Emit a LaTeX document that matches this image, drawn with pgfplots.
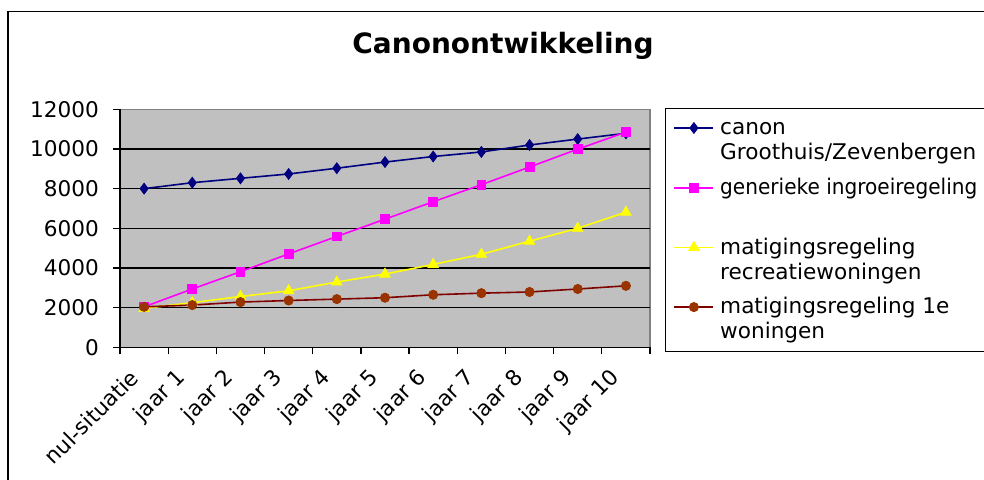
\documentclass[border=0pt]{standalone}
\usepackage{fontspec}
\setmainfont{DejaVu Sans}
\usepackage{graphicx}
\usepackage{pgfplots}
\pgfplotsset{compat=1.18}
\definecolor{cnavy}{RGB}{0,0,128}
\definecolor{cpink}{RGB}{255,0,255}
\definecolor{cyel}{RGB}{255,255,0}
\definecolor{cbrl}{RGB}{128,0,0}
\definecolor{cbrm}{RGB}{153,51,0}
\definecolor{cbg}{RGB}{192,192,192}
\newcommand{\lf}{\fontsize{10.8}{12.5}\selectfont}
\newcommand{\ent}[2]{\parbox[t]{150pt}{\lf\strut #1\\\strut #2}}
\newcommand{\entB}[2]{\parbox[t]{150pt}{\lf\strut #1\\#2}}
\begin{document}
\begin{tikzpicture}
\draw[line width=0.6pt] (4pt,-20pt) -- (4pt,233.75pt) -- (520pt,233.75pt);
\node[font=\fontsize{14}{16}\selectfont\bfseries] at (251.5pt,216.5pt) {Canonontwikkeling};
\begin{axis}[
  at={(60pt,65.85pt)}, anchor=south west,
  scale only axis, width=265pt, height=119pt,
  xmin=-0.5, xmax=10.5, ymin=0, ymax=12000,
  axis x line*=bottom, axis y line*=left,
  axis line style={black, line width=0.6pt},
  axis background/.style={fill=cbg, draw={rgb,255:red,128;green,128;blue,128}, line width=0.6pt},
  xtick={0,...,10},
  xticklabels={nul-situatie,jaar 1,jaar 2,jaar 3,jaar 4,jaar 5,jaar 6,jaar 7,jaar 8,jaar 9,jaar 10},
  major x tick style={draw=none},
  minor xtick={-0.5,0.5,...,10.5},
  tick align=outside, major tick length=3.5pt, minor tick length=3.5pt,
  tick style={black, line width=0.6pt},
  ytick={0,2000,...,10000},
  extra y ticks={12000},
  extra y tick style={grid=none},
  scaled y ticks=false,
  /pgf/number format/assume math mode=true,
  /pgf/number format/1000 sep={},
  ymajorgrids, major grid style={black, line width=0.6pt},
  tick label style={font=\lf},
  yticklabel style={xshift=-3.5pt, anchor=east},
  xticklabel style={xshift=-2.5pt, yshift=-7.5pt, rotate=45, anchor=east},
  legend style={at={(1.0283,1.0055)}, anchor=north west, draw=black, line width=0.6pt,
    inner xsep=4pt, inner ysep=4.25pt, row sep=4.85pt, column sep=3pt,
    nodes={anchor=base west, inner sep=0pt, text depth=}},
  legend image code/.code={\draw[mark repeat=2,mark phase=2,#1] plot coordinates {(0pt,3.3pt) (9.75pt,3.3pt) (19.5pt,3.3pt)};},
]
\addplot[cnavy, line width=0.8pt, mark=diamond*, mark size=2.7pt, mark options={fill=cnavy, draw=cnavy, line width=0.4pt}] coordinates {
(0,8000) (1,8300) (2,8520) (3,8740) (4,9030) (5,9340) (6,9620) (7,9850) (8,10200) (9,10500) (10,10790)};
\addlegendentry{\ent{canon}{Groothuis/Zevenbergen}}
\addplot[cpink, line width=0.8pt, mark=square*, mark size=2.2pt, mark options={fill=cpink, draw=cpink, line width=0.4pt}] coordinates {
(0,2040) (1,2940) (2,3810) (3,4710) (4,5590) (5,6460) (6,7340) (7,8200) (8,9090) (9,9990) (10,10850)};
\addlegendentry{\ent{\scalebox{0.93}[1]{generieke ingroeiregeling}}{}}
\addplot[cyel, line width=0.8pt, mark=triangle*, mark size=3pt, mark options={fill=cyel, draw=cyel, line width=0.4pt}] coordinates {
(0,1960) (1,2250) (2,2560) (3,2850) (4,3290) (5,3690) (6,4180) (7,4690) (8,5350) (9,6000) (10,6810)};
\addlegendentry{\ent{matigingsregeling}{recreatiewoningen}}
\addplot[cbrl, line width=0.8pt, mark=*, mark size=2.3pt, mark options={fill=cbrm, draw=cbrm, line width=0.4pt}] coordinates {
(0,2040) (1,2130) (2,2280) (3,2360) (4,2430) (5,2500) (6,2650) (7,2730) (8,2790) (9,2940) (10,3100)};
\addlegendentry{\entB{matigingsregeling 1e}{woningen}}
\end{axis}
\pgfresetboundingbox
\useasboundingbox (0,0) rectangle (492pt,239.5pt);
\end{tikzpicture}
\end{document}
